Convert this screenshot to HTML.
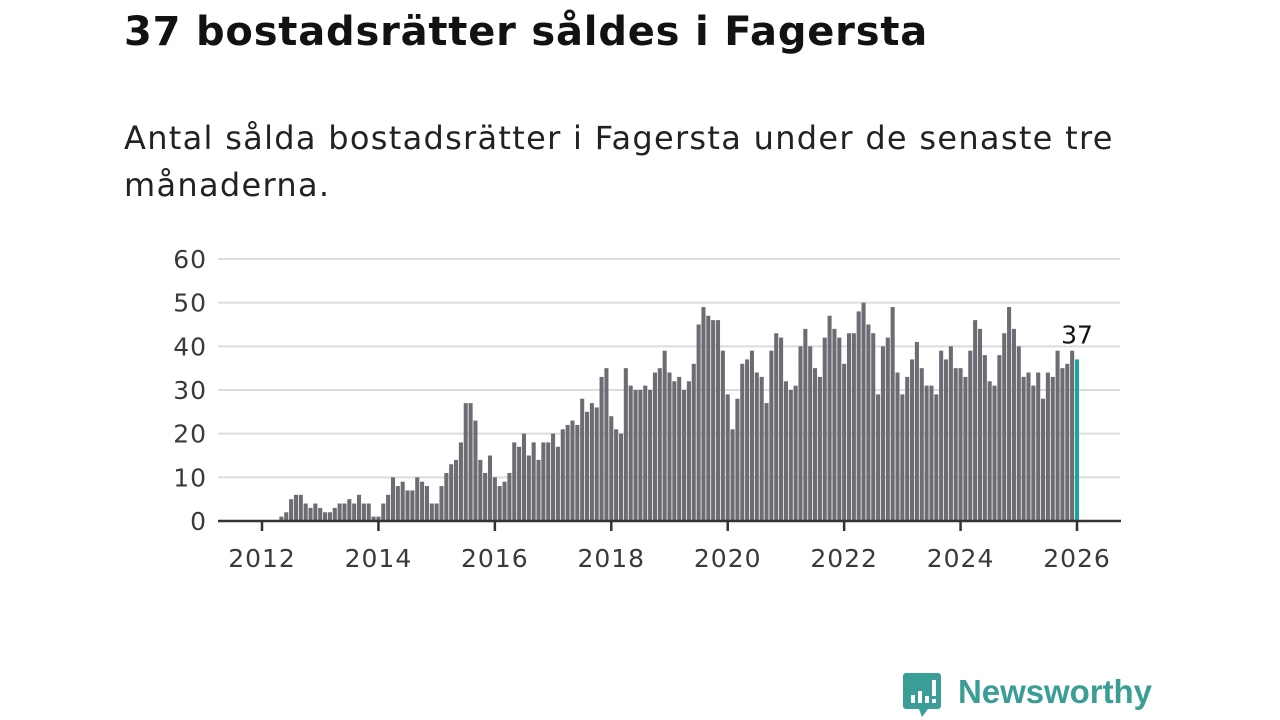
<!DOCTYPE html>
<html><head><meta charset="utf-8">
<style>
body{margin:0;background:#fff;width:1280px;height:720px;overflow:hidden;font-family:"DejaVu Sans",sans-serif;}
#title{position:absolute;left:124px;top:9px;font-size:40px;font-weight:bold;color:#121212;margin:0;white-space:nowrap;letter-spacing:0.8px}
#sub{position:absolute;left:124px;top:115px;font-size:32px;color:#222;line-height:47px;width:1150px;margin:0;letter-spacing:1.3px;white-space:nowrap}
svg{position:absolute;left:0;top:0}
</style></head><body>
<h1 id="title">37 bostadsrätter såldes i Fagersta</h1>
<p id="sub">Antal sålda bostadsrätter i Fagersta under de senaste tre<br>månaderna.</p>
<svg id="chart" width="1280" height="720"></svg>
<script>
const startYear = 2012, startMonth = 4; // May 2012 (0-based month)
const values = [
1,2,5,6,6,4,3,4,
3,2,2,3,4,4,5,4,6,4,4,1,
1,4,6,10,8,9,7,7,10,9,8,4,
4,8,11,13,14,18,27,27,23,14,11,15,
10,8,9,11,18,17,20,15,18,14,18,18,
20,17,21,22,23,22,28,25,27,26,33,35,
24,21,20,35,31,30,30,31,30,34,35,39,
34,32,33,30,32,36,45,49,47,46,46,39,
29,21,28,36,37,39,34,33,27,39,43,42,
32,30,31,40,44,40,35,33,42,47,44,42,
36,43,43,48,50,45,43,29,40,42,49,34,
29,33,37,41,35,31,31,29,39,37,40,35,
35,33,39,46,44,38,32,31,38,43,49,44,
40,33,34,31,34,28,34,33,39,35,36,39,
37];
const yTicks = [0,10,20,30,40,50,60];
const xTicks = [2012,2014,2016,2018,2020,2022,2024,2026];
const NS="http://www.w3.org/2000/svg";
const svg=document.getElementById('chart');
const x=t=>262+(t-2012)*(1077-262)/14;
const y=v=>521-v*(521-259)/60;
const FF='DejaVu Sans, sans-serif';
function mk(tag,attrs){const e=document.createElementNS(NS,tag);for(const k in attrs)e.setAttribute(k,attrs[k]);svg.appendChild(e);return e;}
yTicks.forEach(v=>{
  const g=mk('line',{x1:218,x2:1120,y1:y(v),y2:y(v),stroke:'#dcdcdc','stroke-width':2});
  
  
  const t=mk('text',{x:207,y:y(v)+9,'text-anchor':'end','font-size':25,'letter-spacing':1,fill:'#3a3a3a','font-family':FF});
  t.textContent=v;
  
  
});
const bw=(x(2013)-x(2012))/12;
values.forEach((v,i)=>{
  const t=startYear+(startMonth+i)/12;
  const last=i===values.length-1;
  const r=mk('rect',{x:x(t)-bw*0.42,y:y(v),width:bw*0.84,height:y(0)-y(v),fill:last?'#1aa59a':'#6d6c72'});
  
  
  if(last){
    const l=mk('text',{x:x(t),y:y(v)-16,'text-anchor':'middle','font-size':25,fill:'#111','font-family':FF,stroke:'#fff','stroke-width':4,'paint-order':'stroke'});
    l.textContent=v;
    
    
  }
});
const ax=mk('line',{x1:218,x2:1121,y1:521,y2:521,stroke:'#333','stroke-width':2.5});


xTicks.forEach(yr=>{
  const tk=mk('line',{x1:x(yr),x2:x(yr),y1:521,y2:531,stroke:'#333','stroke-width':2.5});
  
  
  const t=mk('text',{x:x(yr),y:567,'text-anchor':'middle','font-size':25,'letter-spacing':1,fill:'#3a3a3a','font-family':FF});
  t.textContent=yr;
  
  
});
</script>
<svg width="1280" height="720" style="pointer-events:none">
  <path d="M906 673 h32 a3 3 0 0 1 3 3 v30 a3 3 0 0 1 -3 3 h-10 l-6 8 l-3 -8 h-13 a3 3 0 0 1 -3 -3 v-30 a3 3 0 0 1 3 -3z" fill="#3a9e96"/>
  <rect x="911" y="695" width="4" height="8" fill="#fff"/>
  <rect x="918" y="691" width="4" height="12" fill="#fff"/>
  <rect x="925" y="696" width="4" height="7" fill="#fff"/>
  <rect x="932" y="680" width="4" height="16" fill="#fff"/>
  <rect x="932" y="699" width="4" height="4" fill="#fff"/>
  <text x="958" y="703" font-size="33" font-weight="bold" fill="#3a9e96" font-family="Liberation Sans, sans-serif" textLength="194">Newsworthy</text>
</svg>
</body></html>
